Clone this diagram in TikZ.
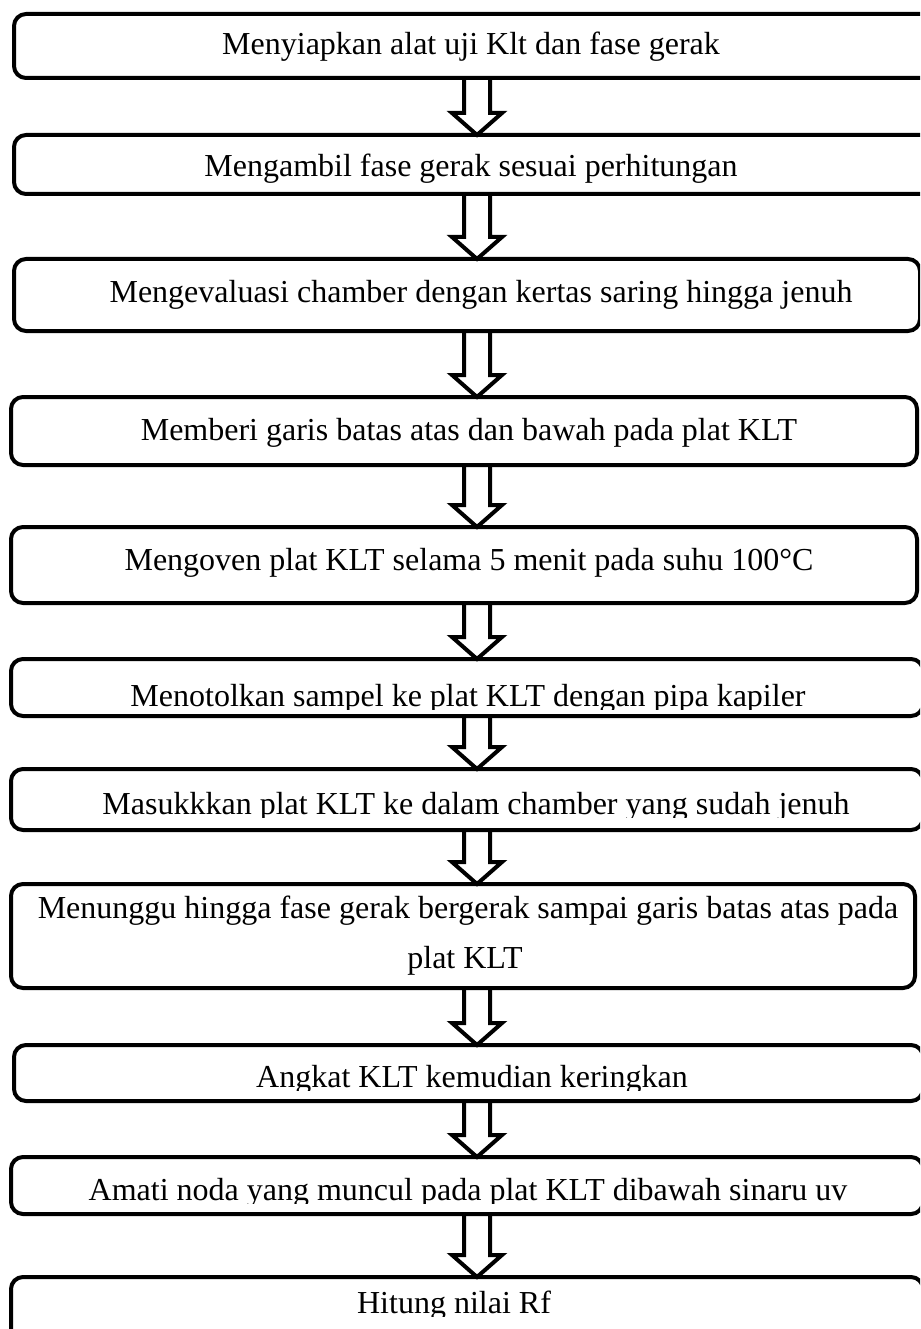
\documentclass[tikz,border=0pt]{standalone}
\usepackage{fontspec}
\setmainfont{Liberation Serif}
\usetikzlibrary{calc}
\newcommand\blockarr[2]{%
  \draw[arrowline] let \p1=(#1.south -| ax), \p2=(#2.north -| ax) in
    (\x1-13pt,\y1) -- (\x1-13pt,\y2+22pt) -- (\x1-25pt,\y2+22pt) -- (\x1,\y2)
    -- (\x1+25pt,\y2+22pt) -- (\x1+13pt,\y2+22pt) -- (\x1+13pt,\y1);}
\begin{document}
\begin{tikzpicture}[x=1pt,y=1pt,
  box/.style={draw=black, line width=4pt, rounded corners=12pt, inner sep=0pt, outer sep=0pt, anchor=north west},
  txt/.style={font=\fontsize{32}{50}\selectfont, inner sep=0pt, outer sep=0pt, anchor=base},
  arrowline/.style={draw=black, line width=4pt, line join=miter}]
\useasboundingbox (0,0) rectangle (920,-1329);
\fill[white] (0,0) rectangle (920,-1329);
\clip (0,0) rectangle (920,-1329);
\coordinate (ax) at (477,0);
% boxes
\node[box, minimum width=936pt, minimum height=64pt]  (b1)  at (14,-14)   {};
\node[box, minimum width=936pt, minimum height=59pt]  (b2)  at (14,-135)  {};
\node[box, minimum width=906pt, minimum height=72pt]  (b3)  at (14,-259)  {};
\node[box, minimum width=906pt, minimum height=68pt]  (b4)  at (11,-397)  {};
\node[box, minimum width=906pt, minimum height=76pt]  (b5)  at (11,-527)  {};
\node[box, minimum width=912pt, minimum height=57pt]  (b6)  at (11,-659)  {};
\node[box, minimum width=912pt, minimum height=61pt]  (b7)  at (11,-769)  {};
\node[box, minimum width=904pt, minimum height=104pt] (b8)  at (11,-884)  {};
\node[box, minimum width=909pt, minimum height=56pt]  (b9)  at (14,-1045) {};
\node[box, minimum width=912pt, minimum height=57pt]  (b10) at (11,-1157) {};
\node[box, minimum width=912pt, minimum height=83pt]  (b11) at (11,-1277) {};
% texts
\node[txt] (t1) at (471,-55)  {Menyiapkan alat uji Klt dan fase gerak};
\node[txt] (t2) at (471,-177) {Mengambil fase gerak sesuai perhitungan};
\node[txt] (t3) at (481,-302) {Mengevaluasi chamber dengan kertas saring hingga jenuh};
\node[txt] (t4) at (469,-440) {Memberi garis batas atas dan bawah pada plat KLT};
\node[txt] (t5) at (469,-570) {Mengoven plat KLT selama 5 menit pada suhu 100°C};
\begin{scope}
  \clip (0,-650) rectangle (920,-709);
  \node[txt] (t6) at (468,-706) {Menotolkan sampel ke plat KLT dengan pipa kapiler};
\end{scope}
\begin{scope}
  \clip (0,-760) rectangle (920,-817);
  \node[txt] (t7) at (476,-814) {Masukkkan plat KLT ke dalam chamber yang sudah jenuh};
\end{scope}
\node[txt] (t8)  at (468,-918) {Menunggu hingga fase gerak bergerak sampai garis batas atas pada};
\node[txt] (t8b) at (465,-968) {plat KLT};
\begin{scope}
  \clip (0,-1040) rectangle (920,-1090);
  \node[txt] (t9) at (472,-1087) {Angkat KLT kemudian keringkan};
\end{scope}
\begin{scope}
  \clip (0,-1150) rectangle (920,-1203);
  \node[txt] (t10) at (468,-1200) {Amati noda yang muncul pada plat KLT dibawah sinaru uv};
\end{scope}
\begin{scope}
  \clip (0,-1270) rectangle (920,-1316);
  \node[txt] (t11) at (454,-1313) {Hitung nilai Rf};
\end{scope}
% arrows
\blockarr{b1}{b2}
\blockarr{b2}{b3}
\blockarr{b3}{b4}
\blockarr{b4}{b5}
\blockarr{b5}{b6}
\blockarr{b6}{b7}
\blockarr{b7}{b8}
\blockarr{b8}{b9}
\blockarr{b9}{b10}
\blockarr{b10}{b11}
\end{tikzpicture}
\end{document}
